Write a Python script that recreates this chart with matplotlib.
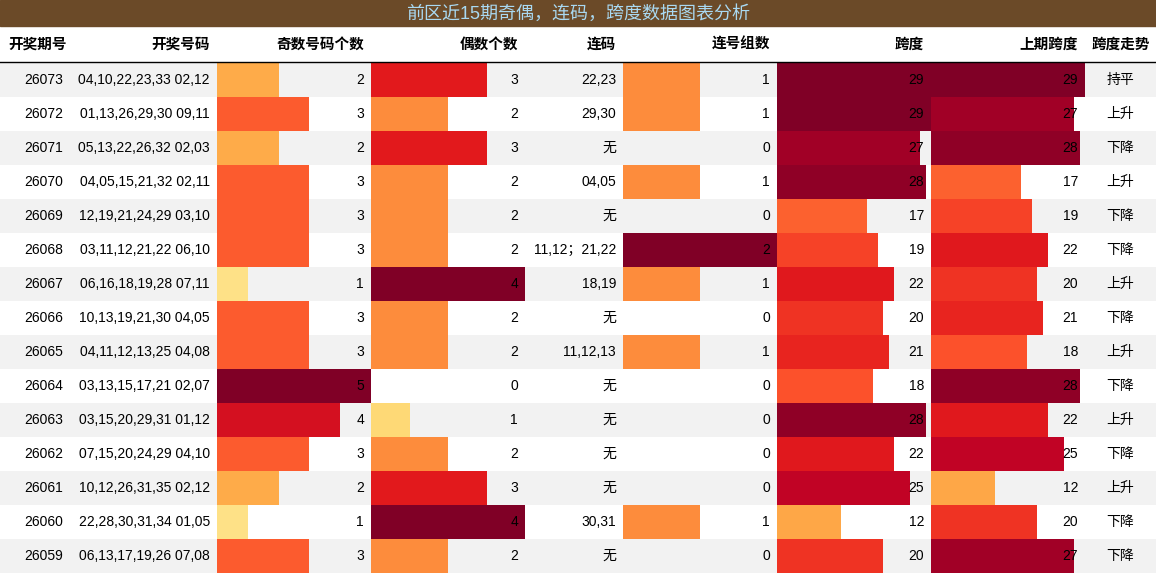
import numpy as np
import matplotlib
matplotlib.use("Agg")
import matplotlib.pyplot as plt

plt.rcParams['font.family'] = ['Liberation Sans', 'Noto Sans CJK SC', 'DejaVu Sans']

title = "前区近15期奇偶，连码，跨度数据图表分析"
headers = ["开奖期号", "开奖号码", "奇数号码个数", "偶数个数", "连码", "连号组数", "跨度", "上期跨度", "跨度走势"]
issues = [26073, 26072, 26071, 26070, 26069, 26068, 26067, 26066, 26065, 26064, 26063, 26062, 26061, 26060, 26059]
numbers = ["04,10,22,23,33 02,12", "01,13,26,29,30 09,11", "05,13,22,26,32 02,03",
           "04,05,15,21,32 02,11", "12,19,21,24,29 03,10", "03,11,12,21,22 06,10",
           "06,16,18,19,28 07,11", "10,13,19,21,30 04,05", "04,11,12,13,25 04,08",
           "03,13,15,17,21 02,07", "03,15,20,29,31 01,12", "07,15,20,24,29 04,10",
           "10,12,26,31,35 02,12", "22,28,30,31,34 01,05", "06,13,17,19,26 07,08"]
odd = [2, 3, 2, 3, 3, 3, 1, 3, 3, 5, 4, 3, 2, 1, 3]
even = [3, 2, 3, 2, 2, 2, 4, 2, 2, 0, 1, 2, 3, 4, 2]
links = ["22,23", "29,30", "无", "04,05", "无", "11,12；21,22", "18,19", "无", "11,12,13",
         "无", "无", "无", "无", "30,31", "无"]
link_count = [1, 1, 0, 1, 0, 2, 1, 0, 1, 0, 0, 0, 0, 1, 0]
span = [29, 29, 27, 28, 17, 19, 22, 20, 21, 18, 28, 22, 25, 12, 20]
prev_span = [29, 27, 28, 17, 19, 22, 20, 21, 18, 28, 22, 25, 12, 20, 27]
trend = ["持平", "上升", "下降", "上升", "下降", "下降", "上升", "下降", "上升", "下降", "上升", "下降", "上升", "下降", "下降"]

W, H = 1156, 574
edges = [0, 70, 217, 371, 525, 623, 777, 931, 1085, 1156]
top, row_h = 63, 34
cmap = plt.get_cmap("YlOrRd")

fig = plt.figure(figsize=(W / 100, H / 100), dpi=100)
ax = fig.add_axes([0, 0, 1, 1])
ax.set_xlim(0, W)
ax.set_ylim(H, 0)
ax.axis("off")

# title bar
ax.add_patch(plt.Rectangle((0, 0), W, 26, color="#6b4a28"))
ax.text(W / 2 - 0, 14, title, color="#a9d9f2", fontsize=13, ha="center", va="center")

# header
for i, h in enumerate(headers):
    if i == 0:
        ax.text(8, 45, h, fontsize=10.5, weight="bold", ha="left", va="center")
    elif i == 8:
        ax.text((edges[8] + edges[9]) / 2, 45, h, fontsize=10.5, weight="bold", ha="center", va="center")
    else:
        ax.text(edges[i + 1] - 7, 45, h, fontsize=10.5, weight="bold", ha="right", va="center")
ax.plot([0, W], [62, 62], color="black", lw=1)

n = len(issues)
ys = top + row_h * np.arange(n) + row_h / 2
for r in range(n):
    if r % 2 == 0:
        ax.add_patch(plt.Rectangle((0, top + r * row_h), W, row_h, color="#f2f2f2", lw=0))

# data bars
bar_cols = [(2, odd), (3, even), (5, link_count), (6, span), (7, prev_span)]
for c, vals in bar_cols:
    vals = np.array(vals, dtype=float)
    mx = vals.max()
    width = edges[c + 1] - edges[c]
    ax.barh(ys, vals / mx * width, left=edges[c], height=row_h,
            color=[cmap(v / mx) for v in vals], lw=0)
    for y, v in zip(ys, vals):
        ax.text(edges[c + 1] - 7, y, str(int(v)), fontsize=10, ha="right", va="center")

for r in range(n):
    y = ys[r]
    ax.text(edges[1] - 7, y, str(issues[r]), fontsize=10, ha="right", va="center")
    ax.text(edges[2] - 7, y, numbers[r], fontsize=10, ha="right", va="center")
    ax.text(edges[5] - 7, y, links[r], fontsize=10, ha="right", va="center")
    ax.text((edges[8] + edges[9]) / 2, y, trend[r], fontsize=10, ha="center", va="center")

fig.savefig("out.png", dpi=100)
